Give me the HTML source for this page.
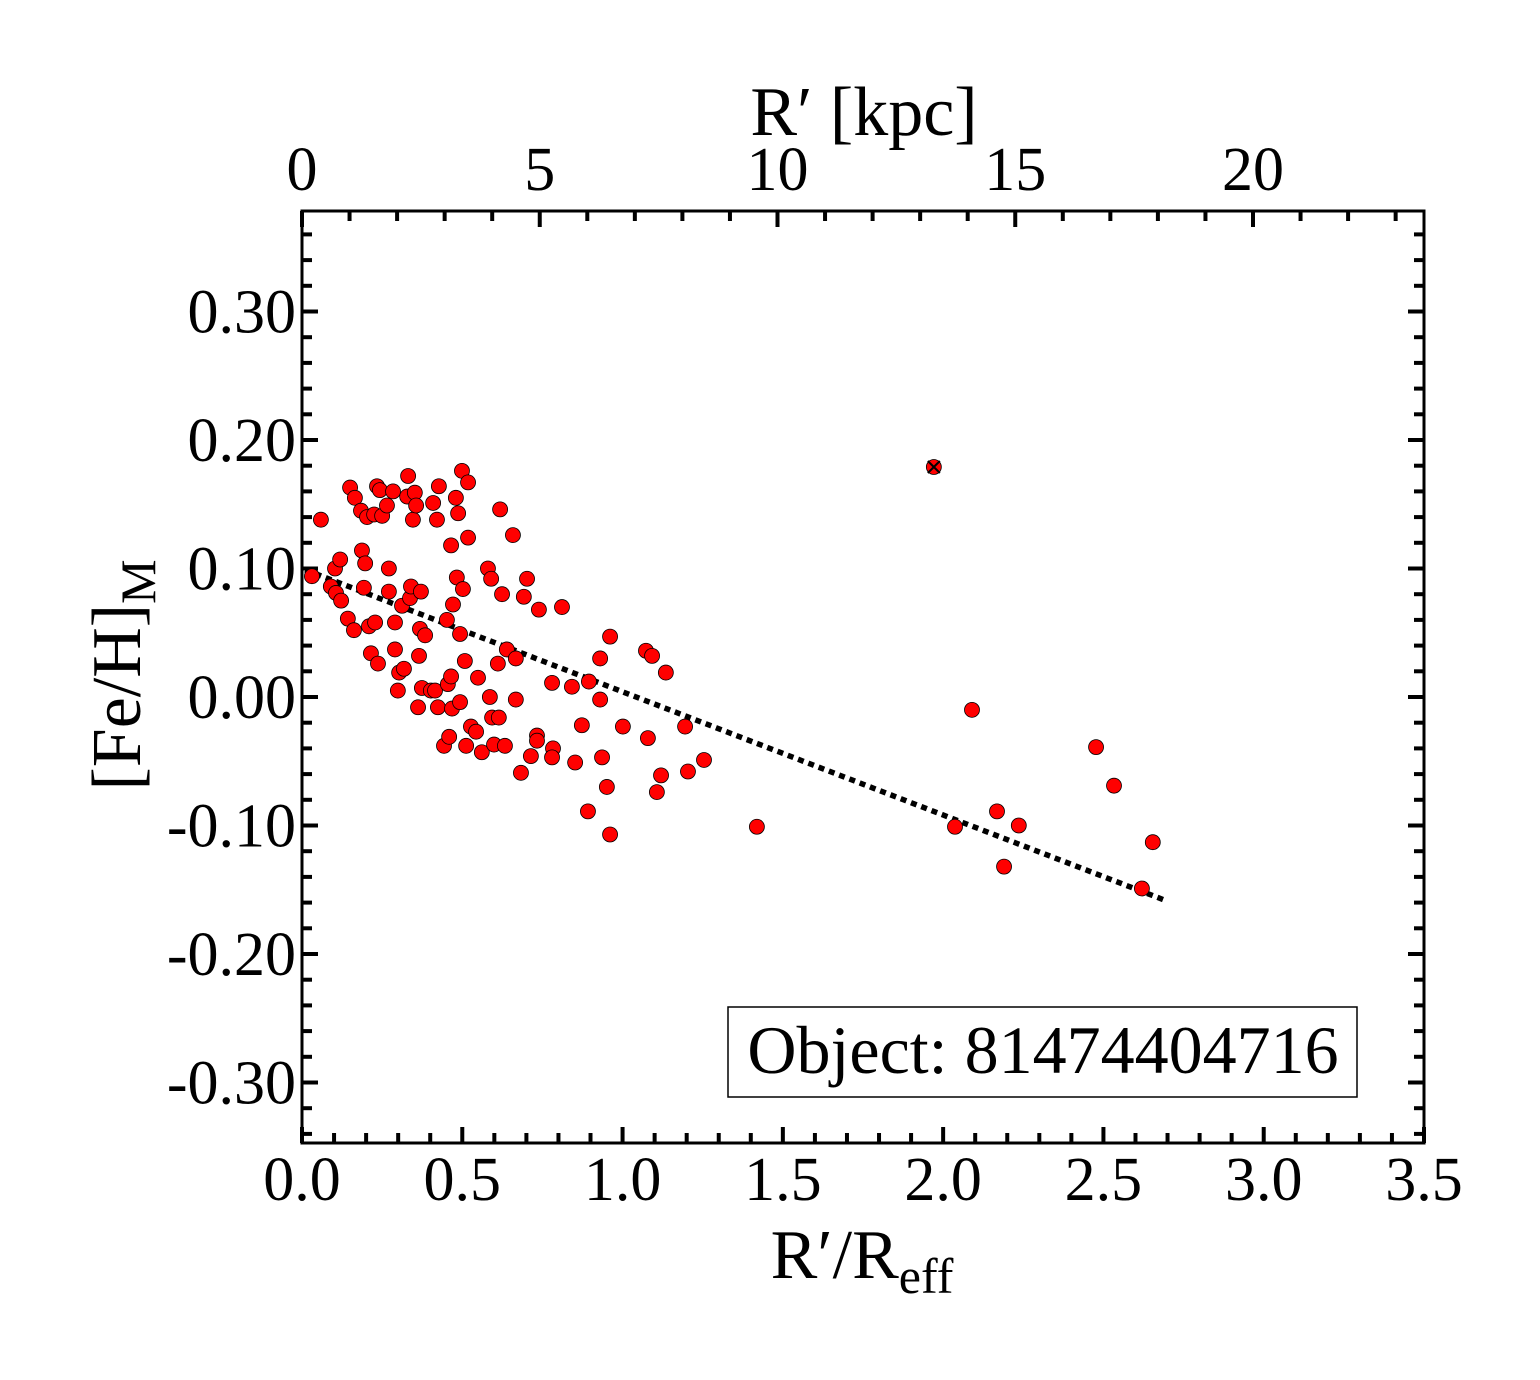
<!DOCTYPE html>
<html><head><meta charset="utf-8"><style>
body{margin:0;background:#fff}
svg text{font-family:"Liberation Serif",serif;fill:#000}
</style></head><body>
<svg id="chart" width="1540" height="1375" viewBox="0 0 1540 1375" xmlns="http://www.w3.org/2000/svg">
<g id="ticks"></g>
<g id="labels"></g>
<line id="fit" stroke="#000" stroke-width="5.5" stroke-dasharray="6,5"/>
<g id="pts"></g>
<rect x="302" y="211" width="1122" height="932" fill="none" stroke="#000" stroke-width="3"/>
<text x="864" y="135" font-size="70" text-anchor="middle">R′ [kpc]</text>
<text x="862" y="1278" font-size="70" text-anchor="middle">R′/R<tspan font-size="50" dy="15">eff</tspan></text>
<text transform="translate(140,675) rotate(-90)" font-size="70" text-anchor="middle">[Fe/H]<tspan font-size="50" dy="15">M</tspan></text>
<g>
<rect x="728" y="1007" width="629" height="90" fill="#fff" stroke="#000" stroke-width="1.5"/>
<text x="1043" y="1073" font-size="68" text-anchor="middle">Object: 81474404716</text>
</g>
</svg>
<script>
const xTicks=[0.0,0.5,1.0,1.5,2.0,2.5,3.0,3.5];
const xTickLabels=["0.0","0.5","1.0","1.5","2.0","2.5","3.0","3.5"];
const yTicks=[0.30,0.20,0.10,0.00,-0.10,-0.20,-0.30];
const yTickLabels=["0.30","0.20","0.10","0.00","-0.10","-0.20","-0.30"];
const topTicks=[0,5,10,15,20];
const topTickLabels=["0","5","10","15","20"];
const xVals=[0.031,0.059,0.103,0.119,0.090,0.106,0.122,0.143,0.150,0.162,0.165,0.184,0.187,0.193,0.197,0.203,0.209,0.215,0.225,0.228,0.234,0.237,0.243,0.250,0.265,0.271,0.271,0.284,0.290,0.290,0.299,0.303,0.312,0.318,0.328,0.331,0.337,0.340,0.346,0.352,0.356,0.362,0.365,0.371,0.368,0.374,0.384,0.402,0.409,0.415,0.421,0.424,0.427,0.443,0.452,0.455,0.459,0.465,0.465,0.471,0.468,0.480,0.483,0.487,0.493,0.493,0.499,0.502,0.508,0.512,0.518,0.518,0.527,0.543,0.549,0.561,0.580,0.586,0.590,0.593,0.599,0.611,0.614,0.618,0.624,0.633,0.639,0.658,0.667,0.667,0.683,0.692,0.702,0.714,0.733,0.739,0.733,0.780,0.783,0.780,0.811,0.842,0.852,0.873,0.892,0.895,0.930,0.930,0.936,0.951,0.961,0.961,1.001,1.073,1.079,1.092,1.107,1.120,1.135,1.195,1.204,1.254,1.419,2.037,2.090,2.168,2.190,2.236,2.477,2.533,2.620,2.654];
const yVals=[0.094,0.138,0.100,0.107,0.086,0.081,0.075,0.061,0.163,0.052,0.155,0.145,0.114,0.085,0.104,0.140,0.055,0.034,0.142,0.058,0.164,0.026,0.161,0.141,0.149,0.100,0.082,0.160,0.037,0.058,0.005,0.019,0.071,0.022,0.156,0.172,0.077,0.086,0.138,0.159,0.149,-0.008,0.032,0.082,0.053,0.007,0.048,0.005,0.151,0.005,0.138,-0.008,0.164,-0.038,0.060,0.010,-0.031,0.118,0.016,0.072,-0.009,0.155,0.093,0.143,-0.004,0.049,0.176,0.084,0.028,-0.038,0.124,0.167,-0.023,-0.027,0.015,-0.043,0.100,0.000,0.092,-0.016,-0.037,0.026,-0.016,0.146,0.080,-0.038,0.037,0.126,0.030,-0.002,-0.059,0.078,0.092,-0.046,-0.030,0.068,-0.034,0.011,-0.040,-0.047,0.070,0.008,-0.051,-0.022,-0.089,0.012,0.030,-0.002,-0.047,-0.070,0.047,-0.107,-0.023,0.036,-0.032,0.032,-0.074,-0.061,0.019,-0.023,-0.058,-0.049,-0.101,-0.101,-0.010,-0.089,-0.132,-0.100,-0.039,-0.069,-0.149,-0.113];
const outlierX=[1.971];
const outlierY=[0.179];
const fitX=[0.01,2.69];
const fitY=[0.099,-0.158];

const X0=302,X1=1424,Y0=211,Y1=1143;
const xs=v=>X0+v*(X1-X0)/3.5;
const ys=v=>697-v*1285;
const ks=v=>X0+v*47.55;
const NS="http://www.w3.org/2000/svg";
function mk(tag,attrs,parent){const e=document.createElementNS(NS,tag);for(const k in attrs)e.setAttribute(k,attrs[k]);parent.appendChild(e);return e;}
const tg=document.getElementById('ticks'),lg=document.getElementById('labels'),pg=document.getElementById('pts');
function tick(x1,y1,x2,y2,w){const t=mk('line',{x1:x1,y1:y1,x2:x2,y2:y2,stroke:'#000','stroke-width':w},tg);

}
for(let i=0;i<=35;i++){const x=xs(i/10);const L=i%5==0?16:10;tick(x,Y1,x,Y1-L,4);}
for(let i=0;i*47.55<=X1-X0;i++){const x=ks(i);const L=i%5==0?16:10;tick(x,Y0,x,Y0+L,4);}
for(let i=-17;i<=18;i++){const v=i*0.02;const y=ys(v);if(y<Y0||y>Y1)continue;const L=(i%5==0)?16:10;tick(X0,y,X0+L,y,4);tick(X1,y,X1-L,y,4);}
xTicks.forEach((v,i)=>{const t=mk('text',{x:xs(v),y:1200,'font-size':62,'text-anchor':'middle'},lg);t.textContent=xTickLabels[i];

});
yTicks.forEach((v,i)=>{const t=mk('text',{x:296,y:ys(v)+21,'font-size':62,'text-anchor':'end'},lg);t.textContent=yTickLabels[i];

});
topTicks.forEach((v,i)=>{const t=mk('text',{x:ks(v),y:190,'font-size':62,'text-anchor':'middle'},lg);t.textContent=topTickLabels[i];

});
const f=document.getElementById('fit');
f.setAttribute('x1',xs(fitX[0]));f.setAttribute('y1',ys(fitY[0]));f.setAttribute('x2',xs(fitX[1]));f.setAttribute('y2',ys(fitY[1]));
xVals.forEach((v,i)=>{const c=mk('circle',{cx:xs(v),cy:ys(yVals[i]),r:7.5,fill:'#ff0000',stroke:'#000','stroke-width':0.8},pg);

});
outlierX.forEach((v,i)=>{const cx=xs(v),cy=ys(outlierY[i]);
const c=mk('circle',{cx:cx,cy:cy,r:7.5,fill:'#ff0000',stroke:'#000','stroke-width':0.8},pg);


const p=mk('path',{d:`M${cx-6},${cy-6}L${cx+6},${cy+6}M${cx-6},${cy+6}L${cx+6},${cy-6}`,stroke:'#000','stroke-width':2},pg);

});
</script>
</body></html>
